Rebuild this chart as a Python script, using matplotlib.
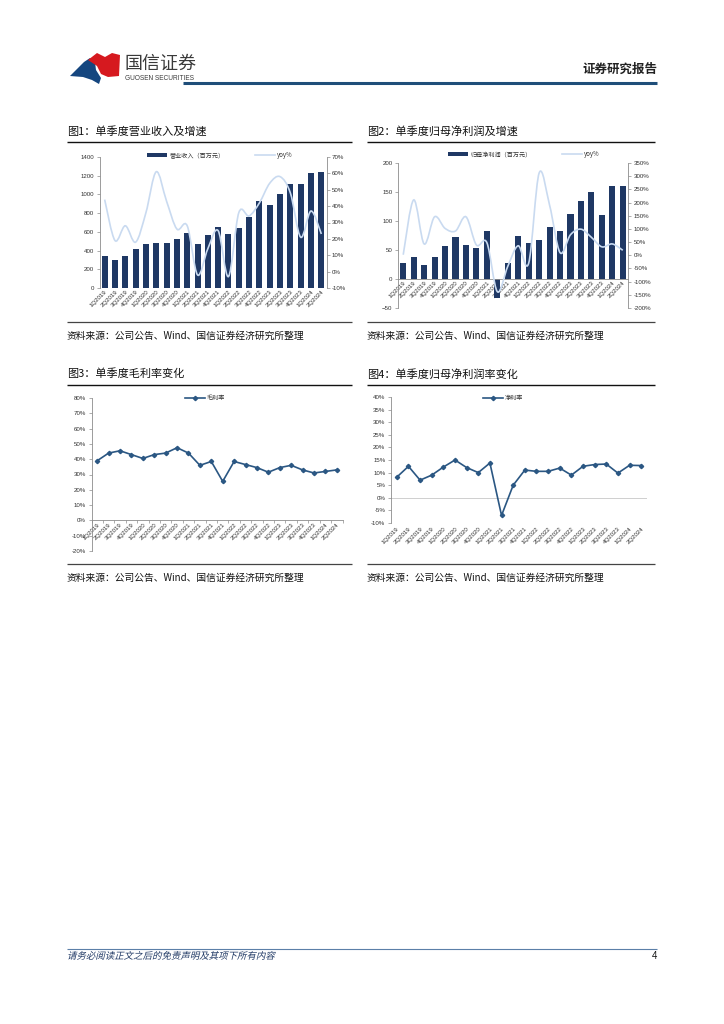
import matplotlib
matplotlib.use('Agg')
import matplotlib.pyplot as plt
import numpy as np
from matplotlib.path import Path
from matplotlib.patches import PathPatch, Polygon, Rectangle
from matplotlib.lines import Line2D
from matplotlib.textpath import TextPath
from matplotlib.font_manager import FontProperties
from matplotlib.transforms import Affine2D

plt.rcParams['font.family'] = ['Liberation Sans', 'Noto Sans CJK SC', 'DejaVu Sans']
CJK = ['Noto Sans CJK SC', 'DejaVu Sans']

# ---------------- data ----------------
quarters = ['1Q2019', '2Q2019', '3Q2019', '4Q2019', '1Q2020', '2Q2020', '3Q2020', '4Q2020',
            '1Q2021', '2Q2021', '3Q2021', '4Q2021', '1Q2022', '2Q2022', '3Q2022', '4Q2022',
            '1Q2023', '2Q2023', '3Q2023', '4Q2023', '1Q2024', '2Q2024']
revenue = [342, 300, 342, 420, 465, 480, 485, 520, 590, 470, 565, 655,
           575, 640, 760, 925, 890, 1000, 1110, 1110, 1225, 1240]
revenue_yoy = [44, 19, 28, 18, 36, 61, 43, 26, 28, -2, 14, 25,
               -3, 36, 34, 42, 54, 58, 48, 21, 37, 23]
profit = [28, 38, 24, 38, 57, 73, 58, 53, 82, -33, 28, 74,
          62, 68, 90, 83, 112, 134, 150, 110, 160, 160]
profit_yoy = [2, 210, 43, 146, 102, 92, 146, 39, 48, -138, -42, 36,
              -30, 312, 190, 10, 78, 99, 68, 32, 43, 19]
gross_margin = [39, 44, 45.5, 43, 40.5, 43, 44, 47.5, 44, 36, 38.5, 25.5,
                38.5, 36.5, 34.5, 31.5, 34.5, 36, 33, 31, 32, 33]
net_margin = [8.2, 12.5, 7, 9, 12.2, 15, 12, 10, 13.8, -7, 5, 11,
              10.5, 10.5, 11.8, 9, 12.5, 13.2, 13.4, 9.8, 12.9, 12.8]

rev_label = '营业收入（百万元）'
profit_label = '归母净利润（百万元）'
yoy_label = 'yoy%'
gm_label = '毛利率'
nm_label = '净利率'
titles = ['图1：单季度营业收入及增速', '图2：单季度归母净利润及增速',
          '图3：单季度毛利率变化', '图4：单季度归母净利润率变化']
source = '资料来源：公司公告、Wind、国信证券经济研究所整理'
footer = '请务必阅读正文之后的免责声明及其项下所有内容'

# ---------------- styles ----------------
W, H = 724, 1024
BAR = '#1f3864'
YOY = '#c9daf0'
LINE = '#2b5783'
AX = '#8c8c8c'
TXT = '#333333'
TFS = 4.4

fig = plt.figure(figsize=(W / 100, H / 100), dpi=100)
fig.patch.set_facecolor('white')


def fx(x):
    return x / W


def fy(y):
    return 1 - y / H


def ax_px(l, t, r, b):
    return fig.add_axes([fx(l), fy(b), (r - l) / W, (b - t) / H])


def hline(x0, x1, y, color='black', lw=1.0):
    fig.add_artist(Line2D([fx(x0), fx(x1)], [fy(y), fy(y)], color=color, lw=lw,
                          transform=fig.transFigure, solid_capstyle='butt'))


def smooth_path(x, y):
    pts = np.column_stack([x, y]).astype(float)
    n = len(pts)
    verts = [pts[0]]
    codes = [Path.MOVETO]
    for i in range(n - 1):
        p0 = pts[i - 1] if i > 0 else pts[i]
        p1 = pts[i]
        p2 = pts[i + 1]
        p3 = pts[i + 2] if i + 2 < n else pts[i + 1]
        verts += [p1 + (p2 - p0) / 6, p2 - (p3 - p1) / 6, p2]
        codes += [Path.CURVE4] * 3
    return Path(verts, codes)


def style_axis(ax, left=True, right=False):
    for s in ['top', 'right', 'left', 'bottom']:
        ax.spines[s].set_visible(False)
    if left:
        ax.spines['left'].set_visible(True)
        ax.spines['left'].set_color(AX)
        ax.spines['left'].set_linewidth(0.6)
    if right:
        ax.spines['right'].set_visible(True)
        ax.spines['right'].set_color(AX)
        ax.spines['right'].set_linewidth(0.6)
    ax.tick_params(axis='y', labelsize=TFS, colors=AX, labelcolor=TXT, length=2, width=0.5, pad=2)
    ax.tick_params(axis='x', labelsize=TFS, colors=AX, labelcolor=TXT, length=2, width=0.5, pad=1)
    ax.set_facecolor('none')


def set_xlabels(ax):
    x = np.arange(len(quarters))
    ax.set_xticks(x)
    ax.set_xticklabels(quarters, rotation=45, ha='right', rotation_mode='anchor')
    ax.set_xlim(-0.5, len(quarters) - 0.5)


pct = lambda v, p: f'{v:.0f}%'

# ---------------- header ----------------
blue_logo = [(70, 76), (84, 62), (90, 58), (95, 62), (96, 70), (101, 78), (99, 84), (92, 80), (83, 77)]
red_logo = [(88, 60), (97, 53), (105, 57), (112, 53), (120, 55), (119, 76), (108, 77), (101, 74), (97, 66)]
fig.add_artist(Polygon([(fx(a), fy(b)) for a, b in blue_logo], closed=True,
                       facecolor='#15467f', edgecolor='none', transform=fig.transFigure))
fig.add_artist(Polygon([(fx(a), fy(b)) for a, b in red_logo], closed=True,
                       facecolor='#d6191f', edgecolor='none', transform=fig.transFigure))
fig.text(fx(124), fy(64), '国信证券', fontsize=13, color='#3a3a3a', family=CJK, va='center', ha='left')
fig.text(fx(125), fy(78.5), 'GUOSEN SECURITIES', fontsize=4.7, color='#3a3a3a', va='center', ha='left')
fig.text(fx(657), fy(69), '证券研究报告', fontsize=9, weight='bold', color='#222222', family=CJK,
         va='center', ha='right')
hline(183, 657, 83, color='#1f4e79', lw=2.2)

# ---------------- titles / separators ----------------
for (x0, x1), ty, t, sy in [((67, 352), 131, titles[0], 322), ((367, 655), 131, titles[1], 322),
                            ((67, 352), 374, titles[2], 564), ((367, 655), 374, titles[3], 564)]:
    fig.text(fx(x0), fy(ty), t, fontsize=8, family=CJK, va='center', ha='left', color='#111111')
    hline(x0, x1, ty + 10.5, color='#111111', lw=1.0)
    hline(x0, x1, sy, color='#444444', lw=0.9)
    fig.text(fx(x0), fy(sy + 14), source, fontsize=7, family=CJK, va='center', ha='left', color='#111111')

# ---------------- chart 1 ----------------
x = np.arange(len(quarters))
ax1 = ax_px(99.5, 157, 326.5, 288)
style_axis(ax1, left=True)
ax1.bar(x, revenue, width=0.58, color=BAR, zorder=2)
ax1.set_ylim(0, 1400)
ax1.set_yticks(np.arange(0, 1401, 200))
set_xlabels(ax1)
ax1.tick_params(axis='x', length=0)
ax1b = ax1.twinx()
style_axis(ax1b, left=False, right=True)
ax1b.set_ylim(-10, 70)
ax1b.set_yticks(np.arange(-10, 71, 10))
ax1b.yaxis.set_major_formatter(pct)
ax1b.add_patch(PathPatch(smooth_path(x, revenue_yoy), fill=False, edgecolor=YOY, lw=1.2, zorder=3))
h1 = [Rectangle((0, 0), 1, 1, facecolor=BAR), Line2D([0], [0], color=YOY, lw=1.2)]
fig.legend(h1, [rev_label, yoy_label], loc='center', bbox_to_anchor=(fx(220), fy(155)),
           ncol=2, frameon=False, prop={'family': CJK, 'size': 4.4}, handlelength=3.2,
           handleheight=0.5, columnspacing=5, handletextpad=0.4, labelcolor=TXT)

# ---------------- chart 2 ----------------
ax2 = ax_px(398, 163, 628, 308)
style_axis(ax2, left=True)
ax2.bar(x, profit, width=0.58, color=BAR, zorder=2)
ax2.set_ylim(-50, 200)
ax2.set_yticks(np.arange(-50, 201, 50))
ax2.spines['bottom'].set_visible(True)
ax2.spines['bottom'].set_position(('data', 0))
ax2.spines['bottom'].set_color(AX)
ax2.spines['bottom'].set_linewidth(0.6)
set_xlabels(ax2)
ax2.tick_params(axis='x', length=0)
ax2b = ax2.twinx()
style_axis(ax2b, left=False, right=True)
ax2b.set_ylim(-200, 350)
ax2b.set_yticks(np.arange(-200, 351, 50))
ax2b.yaxis.set_major_formatter(pct)
ax2b.add_patch(PathPatch(smooth_path(x, profit_yoy), fill=False, edgecolor=YOY, lw=1.2, zorder=3))
h2 = [Rectangle((0, 0), 1, 1, facecolor=BAR), Line2D([0], [0], color=YOY, lw=1.2)]
fig.legend(h2, [profit_label, yoy_label], loc='center', bbox_to_anchor=(fx(524), fy(154)),
           ncol=2, frameon=False, prop={'family': CJK, 'size': 4.4}, handlelength=3.2,
           handleheight=0.5, columnspacing=5, handletextpad=0.4, labelcolor=TXT)

# ---------------- chart 3 ----------------
ax3 = ax_px(91.5, 398, 342.5, 551)
style_axis(ax3, left=True)
ax3.plot(x, gross_margin, color=LINE, lw=1.2, marker='D', markersize=2.2, zorder=3)
ax3.set_ylim(-20, 80)
ax3.set_yticks(np.arange(-20, 81, 10))
ax3.yaxis.set_major_formatter(pct)
ax3.spines['bottom'].set_visible(True)
ax3.spines['bottom'].set_position(('data', 0))
ax3.spines['bottom'].set_color(AX)
ax3.spines['bottom'].set_linewidth(0.6)
set_xlabels(ax3)
ax3.set_xticks(np.arange(-0.5, len(quarters), 1.0), minor=True)
ax3.tick_params(axis='x', which='major', length=0)
ax3.tick_params(axis='x', which='minor', length=2, width=0.5, colors=AX)
fig.legend([Line2D([0], [0], color=LINE, lw=1.2, marker='D', markersize=2.2)], [gm_label],
           loc='center', bbox_to_anchor=(fx(205), fy(398)), frameon=False,
           prop={'family': CJK, 'size': 4.4}, handlelength=3.2, handletextpad=0.3, labelcolor=TXT)

# ---------------- chart 4 ----------------
ax4 = ax_px(391, 397, 647, 523)
style_axis(ax4, left=True)
ax4.axhline(0, color='#cfcfcf', lw=0.7, zorder=1)
ax4.plot(x, net_margin, color=LINE, lw=1.2, marker='D', markersize=2.2, zorder=3)
ax4.set_ylim(-10, 40)
ax4.set_yticks(np.arange(-10, 41, 5))
ax4.yaxis.set_major_formatter(pct)
set_xlabels(ax4)
ax4.tick_params(axis='x', length=0, pad=2)
fig.legend([Line2D([0], [0], color=LINE, lw=1.2, marker='D', markersize=2.2)], [nm_label],
           loc='center', bbox_to_anchor=(fx(503), fy(398)), frameon=False,
           prop={'family': CJK, 'size': 4.4}, handlelength=3.2, handletextpad=0.3, labelcolor=TXT)

# ---------------- footer ----------------
hline(67, 657, 948.5, color='#5b7fa8', lw=0.8)
tp = TextPath((0, 0), footer, size=6.8, prop=FontProperties(family='Noto Sans CJK SC'))
tr = Affine2D().skew_deg(14, 0).scale(100 / 72).translate(67, H - 959)
fig.add_artist(PathPatch(tp, transform=tr, facecolor='#1f3864', edgecolor='none', lw=0))
fig.text(fx(657), fy(956), '4', fontsize=7, color='#111111', va='center', ha='right')

fig.savefig('out.png', dpi=100, facecolor='white')
